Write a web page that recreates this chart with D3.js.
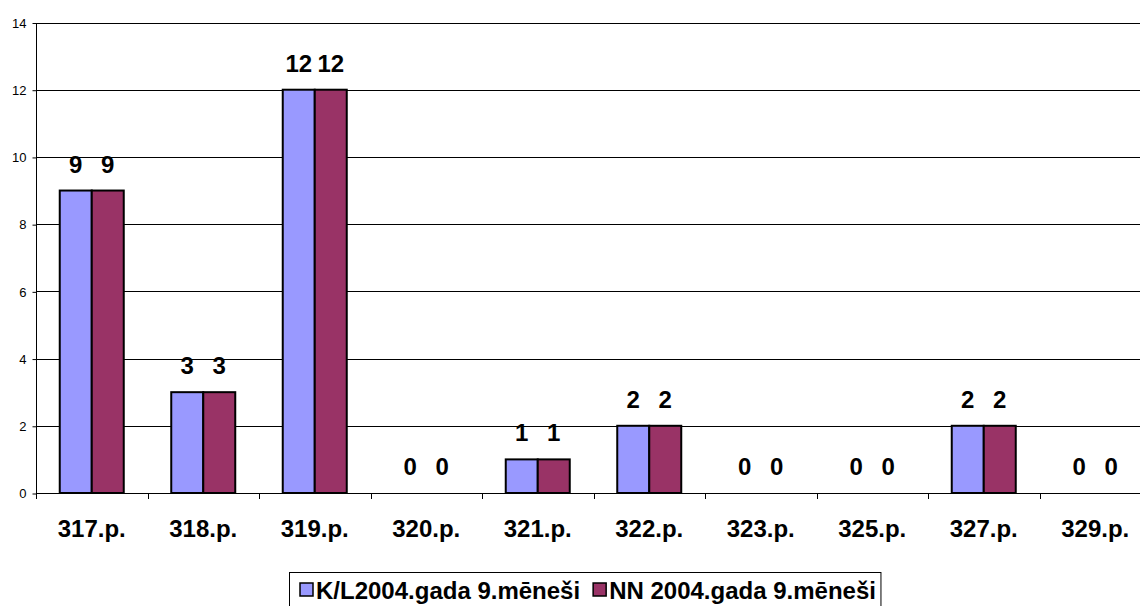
<!DOCTYPE html>
<html>
<head>
<meta charset="utf-8">
<script src="https://cdn.jsdelivr.net/npm/d3@7"></script>
<style>
  body { margin: 0; background: #fff; }
  svg { display: block; font-family: Arial, "Liberation Sans", sans-serif; }
</style>
</head>
<body>
<div id="chart"></div>
<script>
// Categories and series.
var categories = ["317.p.", "318.p.", "319.p.", "320.p.", "321.p.", "322.p.", "323.p.", "325.p.", "327.p.", "329.p."];
var seriesNames = ["K/L2004.gada 9.mēneši", "NN 2004.gada 9.mēneši"];
var klValues = [9, 3, 12, 0, 1, 2, 0, 0, 2, 0];
var nnValues = [9, 3, 12, 0, 1, 2, 0, 0, 2, 0];
var yTicks = [0, 2, 4, 6, 8, 10, 12, 14];
var colors = ["#9999FF", "#993366"];

var width = 1140;
var height = 606;
var plot = {left: 36, right: 1151, top: 22.5, bottom: 493};
var bigFont = 24;

var svg = d3.select("#chart")
    .append("svg")
    .attr("width", width)
    .attr("height", height);

// Scales: category bands, then one sub-band per series
var x0 = d3.scaleBand()
    .domain(categories)
    .range([plot.left, plot.right])
    .paddingInner(0.426)
    .paddingOuter(0.213);

var x1 = d3.scaleBand()
    .domain([0, 1])
    .range([0, x0.bandwidth()]);

var y = d3.scaleLinear()
    .domain([0, 14])
    .range([plot.bottom, plot.top]);

// Gridlines
svg.append("g")
    .selectAll("line")
    .data(yTicks.filter(d => d > 0))
    .enter()
    .append("line")
    .attr("x1", plot.left)
    .attr("x2", plot.right)
    .attr("y1", d => Math.round(y(d)) + 0.5)
    .attr("y2", d => Math.round(y(d)) + 0.5)
    .attr("stroke", "#000");

// Y axis
var yAxisG = svg.append("g")
    .attr("transform", "translate(" + (plot.left + 0.5) + ",0.5)")
    .call(d3.axisLeft(y).tickValues(yTicks).tickSize(4).tickPadding(6));
yAxisG.select(".domain").attr("stroke", "#000").attr("d", "M0," + plot.top + "V" + plot.bottom);
yAxisG.selectAll("text")
    .attr("font-size", 13)
    .attr("font-family", "Arial, 'Liberation Sans', sans-serif")
    .attr("fill", "#000");
yAxisG.selectAll("line").attr("stroke", "#000");

// X axis line, ticks sit between categories
svg.append("line")
    .attr("x1", plot.left)
    .attr("x2", plot.right)
    .attr("y1", plot.bottom + 0.5)
    .attr("y2", plot.bottom + 0.5)
    .attr("stroke", "#000");

var step = x0.step();
svg.append("g")
    .selectAll("line")
    .data(categories)
    .enter()
    .append("line")
    .attr("x1", d => Math.round(x0(d) - x0.paddingOuter() * step) + 0.5)
    .attr("x2", d => Math.round(x0(d) - x0.paddingOuter() * step) + 0.5)
    .attr("y1", plot.bottom)
    .attr("y2", plot.bottom + 6)
    .attr("stroke", "#000");

// Category labels
svg.append("g")
    .selectAll("text")
    .data(categories)
    .enter()
    .append("text")
    .attr("x", d => x0(d) + x0.bandwidth() / 2)
    .attr("y", 537)
    .attr("text-anchor", "middle")
    .attr("font-size", bigFont)
    .attr("font-weight", "bold")
    .text(d => d);

// Bars and value labels
var series = [klValues, nnValues];
series.forEach(function(vals, s) {
    var rows = vals.map((v, i) => ({v: v, c: categories[i]}));

    svg.append("g")
        .selectAll("rect")
        .data(rows.filter(d => d.v > 0))
        .enter()
        .append("rect")
        .attr("x", d => x0(d.c) + x1(s))
        .attr("width", x1.bandwidth())
        .attr("y", d => y(d.v))
        .attr("height", d => y(0) - y(d.v))
        .attr("fill", colors[s])
        .attr("stroke", "#000")
        .attr("stroke-width", 2);

    svg.append("g")
        .selectAll("text")
        .data(rows)
        .enter()
        .append("text")
        .attr("x", d => x0(d.c) + x1(s) + x1.bandwidth() / 2)
        .attr("y", d => y(d.v) - 18)
        .attr("text-anchor", "middle")
        .attr("font-size", bigFont)
        .attr("font-weight", "bold")
        .text(d => d.v);
});

// Legend
var legend = svg.append("g");
var legendBox = legend.append("rect")
    .attr("x", 289.5)
    .attr("y", 572.5)
    .attr("height", 50)
    .attr("fill", "#fff")
    .attr("stroke", "#000");

var lx = 300;
seriesNames.forEach(function(name, s) {
    legend.append("rect")
        .attr("x", lx)
        .attr("y", 583)
        .attr("width", 13)
        .attr("height", 13)
        .attr("fill", colors[s])
        .attr("stroke", "#000")
        .attr("stroke-width", 1.5);
    var t = legend.append("text")
        .attr("x", lx + 16)
        .attr("y", 599)
        .attr("font-size", bigFont)
        .attr("font-weight", "bold")
        .text(name);
    lx = lx + 16 + t.node().getComputedTextLength() + 13;
});
legendBox.attr("width", lx - 13 + 5 - 289.5);
</script>
</body>
</html>
